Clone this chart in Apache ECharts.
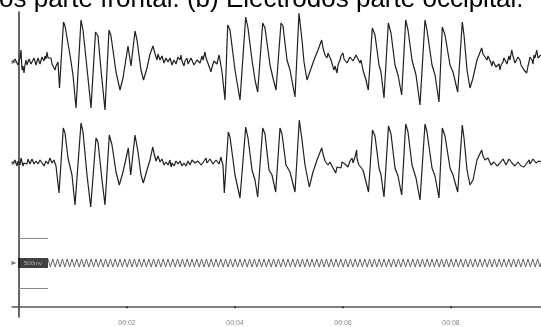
<!DOCTYPE html>
<html><head><meta charset="utf-8">
<script src="https://cdn.jsdelivr.net/npm/echarts@6/dist/echarts.min.js"></script>
<style>html,body{margin:0;padding:0;background:#fff}#c{width:541px;height:327px}</style>
</head><body><div id="c"></div>
<script>
const FS = 54; // samples per second on the time axis
const titleText = 'os parte frontal. (b) Electrodos parte occipital.';
const tickSeconds = [2, 4, 6, 8];
const tickLabels = ['00:02', '00:04', '00:06', '00:08'];

// [sample, amplitude]
const trace1 = [[-6,0],[-4,3],[-3,2],[-1,-3],[0,-2],[1,4],[2,12],[3,-8],[4,-4],[5,-11],[6,-3],[7,2],[8,-3],[9,-2],[10,3],[11,4],[12,-2],[14,-1],[15,4],[16,2],[17,-3],[18,-1],[19,4],[20,3],[21,-2],[22,0],[23,5],[24,4],[25,1],[26,6],[27,3],[28,10],[29,4],[30,2],[31,6],[32,4],[33,-2],[34,-4],[35,-1],[36,-8],[37,-4],[38,-2],[39,0],
[40.5,-26],[44.5,40],[46,36],[51,7],[54,-13],[57,-46],[62,42],[64,32],[69,-16],[72,-46],[76.5,30],[79,26],[82,-8],[86,-48],[90,32],[92,26],[97,-10],[101,-28],[104,-16],[109,16],[112,-4],[116,31],[118,22],[122,-8],[124.5,-18],[128,-6],[131,8],[134,16],
[135,12],[136,10],[137,5],[138,2],[139,8],[140,7],[141,2],[142,0],[143,6],[144,4],[145,-1],[146,-2],[147,4],[148,5],[149,0],[150,-1],[151,4],[152,2],[153,-3],[154,-4],[155,2],[156,3],[157,-2],[158,0],[159,5],[160,6],[161,2],[162,7],[163,1],[165,-4],[166,1],[168,4],[169,-2],[171,-1],[172,4],[174,2],[175,-3],[177,-4],[178,2],[180,3],[181,-1],[183,6],[184,2],[186,10],[187,4],[189,2],[190,-4],[192,-10],[193,-5],[194,-4],[195,1],[197,2],[198,-2],[200,7],[201,2],[202,0],[203,-10],
[206,-38],[208.7,37],[211,32],[216,-8],[221,-38],[226.7,45],[229,34],[233,2],[236,-18],[238.7,-30],[243.7,39],[246,34],[251,-3],[254,-16],[257,-28],[262,39],[264,36],[268,2],[271,-8],[276,-35],[280,49],[283,22],[285,0],[288,-18],[290,-16],[295,2],[299,12],[302.7,22],
[304,14],[305,12],[306,7],[308,4],[309,9],[311,7],[312,2],[313,0],[314,-5],[315,-8],[316,-4],[318,-11],[319,-3],[321,2],[322,6],[324,9],[325,3],[327,4],[328,-1],[330,0],[331,5],[333,6],[334,1],[336,2],[337,7],[338,9],[339,3],[340,4],[341,-1],[342,2],
[344,-8],[347,-18],[349.3,-28],[353.3,34],[356,27],[360,-3],[362,-10],[365,-36],[369.3,39],[372,29],[376,-3],[379,-13],[382.7,-33],[386.7,42],[389,32],[393,2],[397,-13],[401,-43],[406,42],[408,32],[413,-3],[416,-13],[420,-40],[423.3,35],[426,27],[431,-3],[434,-10],[438.7,-30],[443.3,40],[445,27],[448,-8],[451,-26],[454,-16],[458,2],[462.7,14],
[464,8],[465,10],[466,5],[468,2],[469,6],[471,4],[472,-1],[473,-4],[474,1],[476,0],[477,-5],[479,-6],[480,-2],[481,-8],[482,-3],[484,0],[485,4],[487,2],[488,-2],[490,6],[491,2],[492.7,12],[494,6],[495,4],[496,-1],[498,0],[499,5],[501,2],[502,-3],[504,-4],[505,-8],[507.7,-11],[509,-4],[510,0],[511,5],[513,2],[514,-2],[515,7],[516,4],[517.7,12],[519,4],[520,6],[521,2],[522,7]];

const trace2 = [[-6,0],[-5,-2],[-4,3],[-3,0],[-2,-3],[-1,2],[0,1],[1,-2],[2,5],[3,1],[4,-3],[5,0],[6,2],[7,-2],[8,-1],[9,4],[10,3],[11,-1],[12,0],[13,4],[14,2],[15,-1],[16,-2],[17,2],[18,3],[19,-1],[20,0],[21,3],[22,4],[23,0],[24,1],[25,-3],[26,-2],[27,2],[28,3],[29,-1],[30,1],[31,5],[32,4],[33,0],[34,-1],[35,3],[36,1],[37,-3],[38,-2],[39,-5],
[40,-30],[44.3,35],[46,30],[49,5],[53,-12],[56,-42],[62,40],[64,31],[68,-12],[71.7,-44],[77,25],[79,21],[83,-17],[86,-42],[90.3,28],[93,18],[97,-9],[100.3,-22],[104,-9],[109.3,15],[111.7,-12],[116,28],[119,11],[122,-12],[124.3,-20],[128,-7],[131,3],[133.7,16],
[135,10],[136,8],[137,2],[138,3],[139,7],[140,6],[141,1],[142,0],[143,4],[144,3],[145,-2],[146,-3],[147,1],[148,2],[149,-2],[150,0],[151,3],[152,-4],[153,0],[154,1],[155,-3],[156,-2],[157,2],[158,3],[159,-1],[160,-3],[161,2],[162,0],[163,-3],[164,-5],[165,0],[166,1],[167,-3],[168,-2],[169,2],[170,3],[171,-2],[172,-1],[173,3],[175,5],[176,0],[178,-2],[179,2],[181,3],[182,-2],[184,-3],[185,2],[187,5],[188,0],[190,0],[191,4],[193,4],[194,-1],[196,-1],[197,3],[199,3],[200,-1],[202,6],[203,1],[204,-2],
[205.3,-30],[209.3,31],[211,26],[216,-12],[221,-35],[226.7,36],[229,25],[233,-7],[236,-17],[238.7,-34],[243.7,35],[246,29],[250,-7],[253,-12],[256.7,-29],[261,35],[263,29],[267,-2],[271,-9],[276,-29],[280.3,43],[283,23],[286,-2],[290.3,-24],[294,-9],[298,3],[302.7,15],
[304,9],[305,7],[306,2],[307.7,3],[309,-2],[310,-3],[311,1],[313,0],[314,-5],[316.7,-10],[318,-4],[319,-2],[320,-6],[322,-5],[323,1],[325,3],[326,-1],[327.7,1],[329,-4],[330,-3],[331,2],[333,5],[334,0],[335,1],[336,6],[337.7,13],[338,5],[339,1],[340,-2],[341,-3],
[344,-7],[347,-19],[349.5,-29],[353.5,33],[356,27],[360,-5],[362,-12],[365,-34],[369.5,37],[372,29],[376,-5],[379,-13],[382.7,-32],[386.7,39],[389,31],[393,-2],[397,-15],[401,-37],[406,39],[408,31],[413,-5],[416,-13],[420,-35],[423.3,35],[426,27],[431,-5],[434,-12],[438.7,-29],[443.3,38],[445,25],[448,-7],[451,-22],[454,-17],[458,3],[462.7,13],
[464,7],[465,8],[466,3],[468,1],[469,5],[471,3],[472,-2],[474,-3],[475,1],[477,1],[478,-3],[480,-5],[481,0],[483,0],[484,4],[486,3],[487,-2],[489,-1],[490,4],[492,5],[493,0],[495,0],[496,-3],[498,-4],[499,1],[501,2],[502,-3],[504,-1],[505,-4],[507,-5],[508,0],[510,3],[511,-1],[513,0],[514,4],[516,5],[517,0],[519,-2],[520,2],[522,1]];

// calibration signal: values at equal sample steps
const calibStart = 29, calibStep = 2.4;
const calibValues = [
4,-4,4,-4,4,-4,4,-4,4,-4,4,-4,4,-4,4,-4,4,-4,4,-4,
4,-4,4,-4,4,-4,4,-4,4,-4,4,-4,4,-4,4,-4,4,-4,4,-4,
4,-4,4,-4,4,-4,4,-4,4,-4,4,-4,4,-4,4,-4,4,-4,4,-4,
4,-4,4,-4,4,-4,4,-4,4,-4,4,-4,4,-4,4,-4,4,-4,4,-4,
4,-4,4,-4,4,-4,4,-4,4,-4,4,-4,4,-4,4,-4,4,-4,4,-4,
4,-4,4,-4,4,-4,4,-4,4,-4,4,-4,4,-4,4,-4,4,-4,4,-4,
4,-4,4,-4,4,-4,4,-4,4,-4,4,-4,4,-4,4,-4,4,-4,4,-4,
4,-4,4,-4,4,-4,4,-4,4,-4,4,-4,4,-4,4,-4,4,-4,4,-4,
4,-4,4,-4,4,-4,4,-4,4,-4,4,-4,4,-4,4,-4,4,-4,4,-4,
4,-4,4,-4,4,-4,4,-4,4,-4,4,-4,4,-4,4,-4,4,-4,4,-4,
4,-4,4,-4,4,-4,4];
const calibRefLevels = [25, -25];
const calibRefSpan = [-1, 29];
const calibLabel = '500mv';
const calibLabelPos = [14, 0];
const markerSample = -5;

const X_MIN = -7, X_MAX = 522;
const chart = echarts.init(document.getElementById('c'), null, {renderer: 'canvas'});

function traceGrid(top) { return {left: 12, right: 0, top: top, height: 100}; }
function hiddenX(i) { return {type: 'value', gridIndex: i, min: X_MIN, max: X_MAX, show: false}; }
function hiddenY(i) { return {type: 'value', gridIndex: i, min: -50, max: 50, show: false}; }
const traceLine = {color: '#202020', width: 1.2};

chart.setOption({
  animation: false,
  backgroundColor: '#fff',
  graphic: [{type: 'text', left: -1, top: -13, style: {text: titleText, font: '26px "Liberation Sans", Arial, sans-serif', fill: '#000'}}],
  grid: [
    {left: 12, right: 0, top: 12, bottom: 0},
    traceGrid(12), traceGrid(113), traceGrid(213)
  ],
  xAxis: [
    {type: 'value', gridIndex: 0, min: X_MIN, max: X_MAX,
     axisLine: {show: true, onZero: true, lineStyle: {color: '#555', width: 1.5}},
     axisTick: {show: true, length: 2, lineStyle: {color: '#222', width: 1.5}, customValues: tickSeconds.map(s => s * FS)},
     axisLabel: {show: true, margin: 3, fontSize: 7, color: '#888', fontFamily: 'Liberation Sans, Arial, sans-serif',
       customValues: tickSeconds.map(s => s * FS),
       formatter: v => tickLabels[tickSeconds.indexOf(Math.round(v / FS))] || ''},
     splitLine: {show: false}},
    hiddenX(1), hiddenX(2), hiddenX(3)
  ],
  yAxis: [
    {type: 'value', gridIndex: 0, min: -11, max: 304,
     axisLine: {show: true, onZero: true, lineStyle: {color: '#333', width: 1.5}},
     axisTick: {show: false}, axisLabel: {show: false}, splitLine: {show: false}},
    hiddenY(1), hiddenY(2), hiddenY(3)
  ],
  series: [
    {type: 'line', xAxisIndex: 1, yAxisIndex: 1, data: trace1, symbol: 'none', clip: false, lineStyle: traceLine},
    {type: 'line', xAxisIndex: 2, yAxisIndex: 2, data: trace2, symbol: 'none', clip: false, lineStyle: traceLine},
    {type: 'line', xAxisIndex: 3, yAxisIndex: 3, symbol: 'none', clip: false,
     data: calibValues.map((v, i) => [calibStart + i * calibStep, v]),
     lineStyle: {color: '#555', width: 0.9},
     markLine: {silent: true, symbol: 'none', label: {show: false}, lineStyle: {color: '#888', width: 1, type: 'solid'},
       data: calibRefLevels.map(lv => [{coord: [calibRefSpan[0], lv]}, {coord: [calibRefSpan[1], lv]}])}},
    {type: 'scatter', xAxisIndex: 3, yAxisIndex: 3, z: 5, symbolSize: 0, data: [calibLabelPos],
     label: {show: true, position: 'inside', formatter: calibLabel, color: '#ccc', fontSize: 6, backgroundColor: '#111', padding: [2, 6, 2, 6], fontFamily: 'Liberation Sans, Arial, sans-serif'}},
    ...[1, 2, 3].map(i => ({type: 'scatter', xAxisIndex: i, yAxisIndex: i, symbol: 'triangle', symbolRotate: -90, symbolSize: [4, 5],
      itemStyle: {color: '#555'}, data: [[markerSample, 0]]}))
  ]
});
</script></body></html>
